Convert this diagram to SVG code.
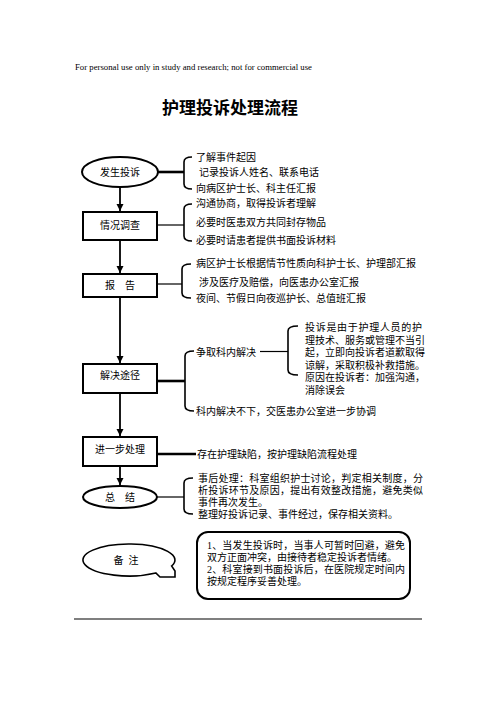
<svg xmlns="http://www.w3.org/2000/svg" width="496" height="702" viewBox="0 0 496 702">
<style>
text{font-family:"Liberation Serif","Noto Sans CJK SC",serif;fill:#000;}
.t{font-size:10px;}
.n{font-size:10px;text-anchor:middle;}
.box{fill:#fff;stroke:#000;stroke-width:2;}
.thin{stroke:#000;stroke-width:1.2;fill:none;}
.thick{stroke:#000;stroke-width:2.6;fill:none;}
.br{stroke:#000;stroke-width:1.6;fill:none;}
.v{stroke:#000;stroke-width:1.8;fill:none;}
</style>
<defs>
<marker id="ah" markerWidth="8" markerHeight="8" refX="7" refY="4" orient="auto" markerUnits="userSpaceOnUse">
<path d="M0,0.5 L7,4 L0,7.5 Z" fill="#000"/>
</marker>
</defs>
<rect width="496" height="702" fill="#fff"/>
<text x="75" y="70" style="font-size:7.6px" textLength="237" lengthAdjust="spacingAndGlyphs">For personal use only in study and research; not for commercial use</text>
<text x="230" y="114" style="font-size:17px;font-weight:bold;text-anchor:middle;font-family:'Noto Sans CJK SC',sans-serif">护理投诉处理流程</text>

<g id="connectors">
<line class="v" x1="120" y1="187" x2="120" y2="211" marker-end="url(#ah)"/>
<line class="v" x1="120" y1="240" x2="120" y2="273" marker-end="url(#ah)"/>
<line class="v" x1="120" y1="297" x2="120" y2="363" marker-end="url(#ah)"/>
<line class="v" x1="120" y1="393" x2="120" y2="436" marker-end="url(#ah)"/>
<line class="v" x1="120" y1="466" x2="120" y2="485" marker-end="url(#ah)"/>
<line class="thick" x1="158" y1="172" x2="184" y2="172"/>
<line class="thin" x1="157" y1="225" x2="184" y2="225"/>
<line class="thin" x1="157" y1="284" x2="182" y2="284"/>
<line class="thick" x1="157" y1="381" x2="185" y2="381"/>
<line class="thin" x1="260" y1="351.5" x2="288" y2="351.5"/>
<line class="thick" x1="157" y1="454" x2="196" y2="454"/>
<line class="thin" x1="157" y1="497" x2="184" y2="497"/>
<path class="br" d="M192,157 Q184,157 184,162 L184,184 Q184,189 192,189"/>
<path class="br" d="M192,204 Q184,204 184,209 L184,236 Q184,241 192,241"/>
<path class="br" d="M191,264 Q182,264 182,269 L182,293 Q182,298 191,298"/>
<path class="br" d="M194,351 Q185,351 185,356 L185,406 Q185,411 194,411"/>
<path class="br" d="M298,326 Q288,326 288,331 L288,370 Q288,375 298,375"/>
<path class="br" d="M193,478 Q184,478 184,483 L184,509 Q184,514 193,514"/>
</g>

<g id="n1">
<ellipse class="box" cx="120" cy="172" rx="38" ry="15"/>
<text class="n" x="120" y="175.5">发生投诉</text>
</g>
<g id="n1-notes">
<text class="t" x="196" y="161">了解事件起因</text>
<text class="t" x="199" y="176">记录投诉人姓名、联系电话</text>
<text class="t" x="196" y="192">向病区护士长、科主任汇报</text>
</g>

<g id="n2">
<rect class="box" x="83" y="212" width="74" height="28"/>
<text class="n" x="120" y="228.5">情况调查</text>
</g>
<g id="n2-notes">
<text class="t" x="196" y="207">沟通协商，取得投诉者理解</text>
<text class="t" x="196" y="226">必要时医患双方共同封存物品</text>
<text class="t" x="196" y="244">必要时请患者提供书面投诉材料</text>
</g>

<g id="n3">
<rect class="box" x="83" y="274" width="74" height="23"/>
<text class="n" x="120" y="288.5" xml:space="preserve">报    告</text>
</g>
<g id="n3-notes">
<text class="t" x="196" y="267">病区护士长根据情节性质向科护士长、护理部汇报</text>
<text class="t" x="199" y="286">涉及医疗及赔偿，向医患办公室汇报</text>
<text class="t" x="196" y="302">夜间、节假日向夜巡护长、总值班汇报</text>
</g>

<g id="n4">
<rect class="box" x="83" y="364" width="74" height="29"/>
<text class="n" x="120" y="378.5">解决途径</text>
</g>
<g id="n4-notes">
<text class="t" x="196" y="355.5">争取科内解决</text>
<text class="t" x="196" y="414.5">科内解决不下，交医患办公室进一步协调</text>
<text class="t" x="305" y="330.5" textLength="117" lengthAdjust="spacing">投诉是由于护理人员的护</text>
<text class="t" x="305" y="343.5">理技术、服务或管理不当引</text>
<text class="t" x="305" y="356">起，立即向投诉者道歉取得</text>
<text class="t" x="305" y="368.5">谅解，采取积极补救措施。</text>
<text class="t" x="305" y="381">原因在投诉者：加强沟通，</text>
<text class="t" x="305" y="394">消除误会</text>
</g>

<g id="n5">
<rect class="box" x="83" y="437" width="74" height="29"/>
<text class="n" x="120" y="452.5">进一步处理</text>
</g>
<g id="n5-notes">
<text class="t" x="197" y="458">存在护理缺陷，按护理缺陷流程处理</text>
</g>

<g id="n6">
<ellipse class="box" cx="120" cy="497" rx="37" ry="11"/>
<text class="n" x="120" y="500.5" xml:space="preserve">总    结</text>
</g>
<g id="n6-notes">
<text class="t" x="198" y="481.5" textLength="225" lengthAdjust="spacing">事后处理：科室组织护士讨论，判定相关制度，分</text>
<text class="t" x="198" y="494" textLength="225" lengthAdjust="spacing">析投诉环节及原因，提出有效整改措施，避免类似</text>
<text class="t" x="198" y="505.5">事件再次发生。</text>
<text class="t" x="198" y="518">整理好投诉记录、事件经过，保存相关资料。</text>
</g>

<g id="n7">
<path d="M171.6,566 A46,16 0 1 0 155.8,573 L160,577 L175,577 L175,571 Z" fill="#fff" stroke="#000" stroke-width="1.6" stroke-linejoin="miter"/>
<text class="n" x="126" y="563.5" xml:space="preserve">备  注</text>
</g>

<g id="n8">
<rect class="box" x="197" y="532" width="213" height="67" rx="11"/>
<text class="t" x="207" y="549" textLength="198" lengthAdjust="spacing">1、当发生投诉时，当事人可暂时回避，避免</text>
<text class="t" x="207" y="561">双方正面冲突，由接待者稳定投诉者情绪。</text>
<text class="t" x="207" y="573" textLength="198" lengthAdjust="spacing">2、科室接到书面投诉后，在医院规定时间内</text>
<text class="t" x="207" y="585">按规定程序妥善处理。</text>
</g>

<line x1="74" y1="619" x2="422" y2="619" stroke="#000" stroke-width="1.2"/>
</svg>
